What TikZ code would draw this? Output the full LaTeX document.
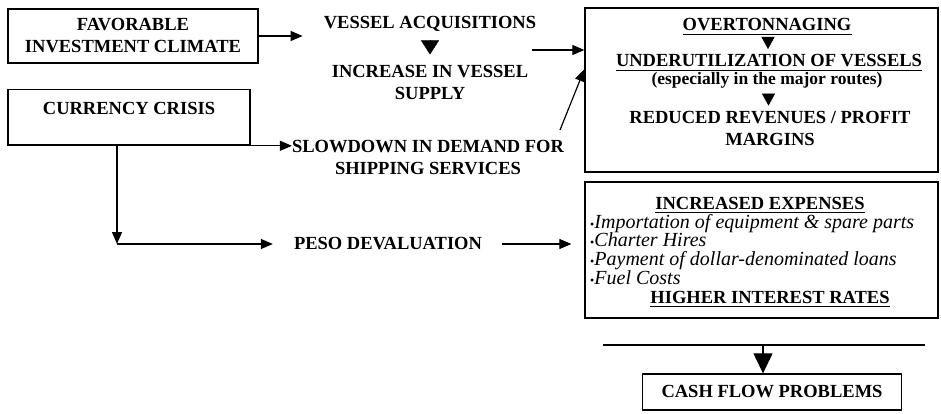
\documentclass[tikz,border=0pt]{standalone}
\usepackage{fontspec}
\setmainfont{Liberation Serif}
\usetikzlibrary{arrows.meta,calc}

\begin{document}
\begin{tikzpicture}[x=1pt,y=-1pt,
  every node/.style={inner sep=0pt},
  lbl/.style={font=\bfseries\fontsize{18.5}{22}\selectfont, align=center},
  frame/.style={draw, line width=1.3pt},
  link/.style={line width=1.2pt, -{Triangle[length=12pt,width=10pt]}},
  uline/.style={line width=1.2pt},
  tipsmall/.style={-{Triangle[length=12pt,width=13pt]}},
  tipwide/.style={-{Triangle[length=14pt,width=18pt]}},
  tipbig/.style={line width=1.2pt, -{Triangle[length=20pt,width=19pt]}},
  dot/.style={font=\fontsize{12}{12}\selectfont\upshape}
]
\useasboundingbox (0,0) rectangle (941,414);

% causes on the left
\node[frame, lbl, minimum width=250pt, minimum height=54pt] (fav) at (133,36)
  {FAVORABLE\\INVESTMENT CLIMATE};
\node[frame, lbl, minimum width=242pt, text height=12.3pt, text depth=19pt,
      inner ysep=12pt] (cur) at (129,117.5) {CURRENCY CRISIS};

% intermediate effects
\node[lbl] (va) at (430,24) {VESSEL ACQUISITIONS};
\node[lbl] (inc) at (430,82.5) {INCREASE IN VESSEL\\SUPPLY};
\node[lbl] (slow) at (428,157.5) {SLOWDOWN IN DEMAND FOR\\SHIPPING SERVICES};
\node[lbl] (peso) at (388,244) {PESO DEVALUATION};

% market consequences
\node[frame, minimum width=353pt, minimum height=164pt] (b1) at (761.5,90) {};
\node[lbl] (ov) at (767,25) {OVERTONNAGING};
\node[lbl] (under) at (769,61) {UNDERUTILIZATION OF VESSELS};
\node[font=\bfseries\fontsize{17.5}{20}\selectfont] (esp) at (767,80)
  {(especially in the major routes)};
\node[lbl] (red) at (770,128.5) {REDUCED REVENUES / PROFIT\\MARGINS};

% cost consequences
\node[frame, minimum width=353pt, minimum height=136pt] (b2) at (761.5,250) {};
\node[lbl] (incx) at (760,203) {INCREASED EXPENSES};
\node[anchor=north west, align=left, font=\itshape\fontsize{20}{18.7}\selectfont]
  (list) at (590,214)
  {{\fontsize{12}{12}\selectfont\upshape•}Importation of equipment \& spare parts\\
   {\fontsize{12}{12}\selectfont\upshape•}Charter Hires\\
   {\fontsize{12}{12}\selectfont\upshape•}Payment of dollar-denominated loans\\
   {\fontsize{12}{12}\selectfont\upshape•}Fuel Costs};
\node[lbl] (hir) at (770,297) {HIGHER INTEREST RATES};

% final outcome
\node[frame, lbl, minimum width=259pt, minimum height=36pt] (cash) at (772,392)
  {CASH FLOW PROBLEMS};

% underlined headings
\foreach \n in {ov,under,incx,hir}
  \draw[uline] ([yshift=-3pt]\n.south west) -- ([yshift=-3pt]\n.south east);

% connectors
\draw[link] (fav.east) -- ([xshift=-21pt]va.west |- fav.east);
\coordinate (vaOut) at (532,50);
\draw[link] (vaOut) -- (vaOut -| b1.west);
\coordinate (slowOut) at (560,130);
\draw[link] (slowOut) -- ([yshift=-62pt]b1.north west);
\draw[link] (cur.south east) -- (slow.west |- cur.south east);
\coordinate (elbow) at (117,244);
\draw[link] (cur.south -| elbow) -- (elbow);
\draw[link] (elbow) -- ([xshift=-21pt]peso.west |- elbow);
\draw[link] ([xshift=20pt]peso.east |- elbow) -- ([xshift=-13pt]b2.west |- elbow);

% step markers inside the columns
\draw[tipwide] ($(va.south)!.5!(inc.north)+(0,-8)$) -- ++(0,14);
\draw[tipsmall] ($(ov.south)!.5!(under.north)+(0,-6)$) -- ++(0,12);
\draw[tipsmall] ($(esp.south)!.5!(red.north)+(0,-6)$) -- ++(0,12);

% bar collecting both boxes
\coordinate (barL) at (603,345);
\coordinate (barR) at (925,345);
\coordinate (barM) at (763,345);
\draw[line width=2.8pt] (barL) -- (barR);
\draw[tipbig] (barM) -- (barM |- cash.north);
\end{tikzpicture}
\end{document}
